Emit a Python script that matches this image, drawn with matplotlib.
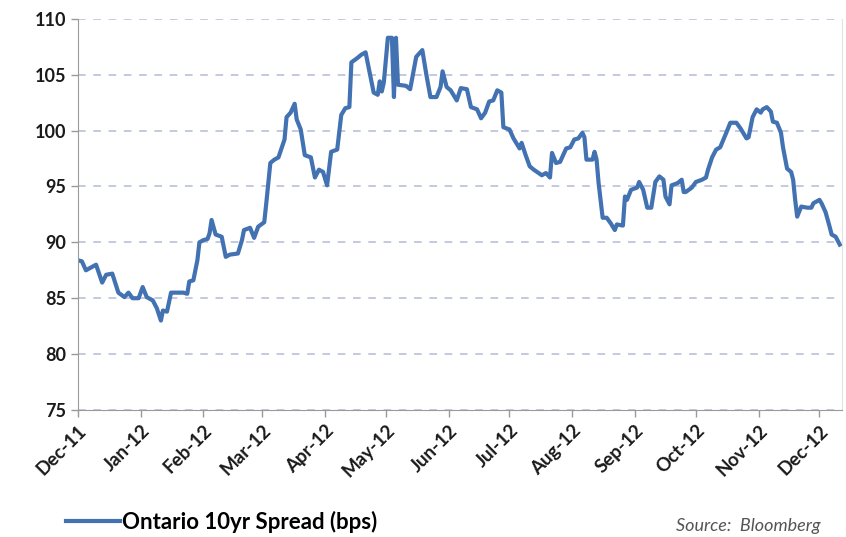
"""Ontario 10yr spread, Dec-11 to Dec-12."""
import numpy as np
import pandas as pd
import matplotlib
matplotlib.use('Agg')
import matplotlib.pyplot as plt
import matplotlib.dates as mdates

plt.rcParams['font.family'] = ['Lato', 'DejaVu Sans']

# values
dates = [
    '2011-12-01', '2011-12-03', '2011-12-05', '2011-12-08', '2011-12-10', '2011-12-13',
    '2011-12-15', '2011-12-18', '2011-12-21', '2011-12-24', '2011-12-26', '2011-12-28',
    '2011-12-31', '2012-01-02', '2012-01-04', '2012-01-07', '2012-01-09', '2012-01-11',
    '2012-01-12', '2012-01-14', '2012-01-16', '2012-01-19', '2012-01-22', '2012-01-24',
    '2012-01-25', '2012-01-27', '2012-01-29', '2012-01-30', '2012-02-01', '2012-02-03',
    '2012-02-04', '2012-02-05', '2012-02-07', '2012-02-10', '2012-02-12', '2012-02-14',
    '2012-02-18', '2012-02-20', '2012-02-21', '2012-02-24', '2012-02-26', '2012-02-28',
    '2012-03-02', '2012-03-03', '2012-03-05', '2012-03-07', '2012-03-09', '2012-03-12',
    '2012-03-13', '2012-03-15', '2012-03-17', '2012-03-18', '2012-03-20', '2012-03-22',
    '2012-03-25', '2012-03-27', '2012-03-29', '2012-03-31', '2012-04-02', '2012-04-04',
    '2012-04-07', '2012-04-09', '2012-04-11', '2012-04-13', '2012-04-14', '2012-04-17',
    '2012-04-19', '2012-04-21', '2012-04-23', '2012-04-25', '2012-04-27', '2012-04-28',
    '2012-04-29', '2012-04-30', '2012-05-02', '2012-05-04', '2012-05-05', '2012-05-06',
    '2012-05-07', '2012-05-11', '2012-05-13', '2012-05-16', '2012-05-19', '2012-05-21',
    '2012-05-23', '2012-05-26', '2012-05-28', '2012-05-29', '2012-05-31', '2012-06-02',
    '2012-06-05', '2012-06-07', '2012-06-10', '2012-06-12', '2012-06-15', '2012-06-17',
    '2012-06-19', '2012-06-21', '2012-06-23', '2012-06-25', '2012-06-27', '2012-06-28',
    '2012-07-01', '2012-07-03', '2012-07-06', '2012-07-07', '2012-07-09', '2012-07-11',
    '2012-07-13', '2012-07-17', '2012-07-19', '2012-07-21', '2012-07-22', '2012-07-24',
    '2012-07-26', '2012-07-29', '2012-07-31', '2012-08-02', '2012-08-04', '2012-08-06',
    '2012-08-07', '2012-08-08', '2012-08-11', '2012-08-12', '2012-08-13', '2012-08-14',
    '2012-08-16', '2012-08-18', '2012-08-20', '2012-08-22', '2012-08-23', '2012-08-26',
    '2012-08-27', '2012-08-28', '2012-08-30', '2012-09-02', '2012-09-03', '2012-09-05',
    '2012-09-07', '2012-09-09', '2012-09-11', '2012-09-13', '2012-09-15', '2012-09-16',
    '2012-09-18', '2012-09-19', '2012-09-22', '2012-09-24', '2012-09-25', '2012-09-26',
    '2012-09-29', '2012-10-01', '2012-10-04', '2012-10-06', '2012-10-07', '2012-10-09',
    '2012-10-11', '2012-10-13', '2012-10-16', '2012-10-18', '2012-10-21', '2012-10-23',
    '2012-10-26', '2012-10-27', '2012-10-29', '2012-10-31', '2012-11-02', '2012-11-03',
    '2012-11-05', '2012-11-07', '2012-11-08', '2012-11-10', '2012-11-12', '2012-11-13',
    '2012-11-15', '2012-11-17', '2012-11-18', '2012-11-19', '2012-11-20', '2012-11-22',
    '2012-11-25', '2012-11-27', '2012-11-28', '2012-12-01', '2012-12-02', '2012-12-04',
    '2012-12-06', '2012-12-07', '2012-12-09', '2012-12-11',
]
spread = [
    88.4, 88.3, 87.5, 87.8, 88.0, 86.4,
    87.1, 87.2, 85.5, 85.1, 85.5, 85.0,
    85.0, 86.0, 85.1, 84.8, 84.1, 83.0,
    83.9, 83.8, 85.5, 85.5, 85.5, 85.4,
    86.5, 86.6, 88.4, 90.0, 90.2, 90.3,
    90.8, 92.0, 90.7, 90.5, 88.7, 88.9,
    89.0, 90.2, 91.1, 91.3, 90.4, 91.4,
    91.8, 93.5, 97.1, 97.4, 97.6, 99.2,
    101.2, 101.6, 102.4, 101.0, 100.1, 97.8,
    97.6, 95.8, 96.5, 96.3, 95.1, 98.1,
    98.3, 101.4, 102.0, 102.1, 106.1, 106.5,
    106.8, 107.0, 105.2, 103.4, 103.2, 104.4,
    103.5, 104.3, 108.3, 108.3, 103.0, 108.3,
    104.1, 104.0, 103.7, 106.6, 107.2, 105.0,
    103.0, 103.0, 103.9, 105.3, 103.9, 103.6,
    102.7, 103.8, 103.7, 102.1, 101.9, 101.1,
    101.6, 102.6, 102.7, 103.6, 103.4, 100.3,
    100.1, 99.3, 98.4, 98.9, 97.8, 96.8,
    96.5, 96.0, 96.2, 95.8, 98.0, 97.1,
    97.2, 98.4, 98.5, 99.2, 99.3, 99.8,
    99.4, 97.4, 97.4, 98.1, 97.4, 95.3,
    92.2, 92.2, 91.7, 91.1, 91.6, 91.5,
    94.1, 93.8, 94.7, 94.9, 95.4, 94.7,
    93.1, 93.1, 95.4, 95.9, 95.6, 94.1,
    93.4, 95.1, 95.3, 95.6, 94.5, 94.5,
    94.9, 95.4, 95.6, 95.8, 96.5, 97.6,
    98.3, 98.5, 99.8, 100.7, 100.7, 100.2,
    99.3, 99.4, 101.2, 101.9, 101.6, 101.9,
    102.1, 101.7, 100.8, 100.7, 99.8, 98.5,
    96.6, 96.3, 95.6, 93.8, 92.3, 93.2,
    93.1, 93.1, 93.5, 93.8, 93.5, 92.7,
    91.4, 90.7, 90.5, 89.8,
]
yticks = [75, 80, 85, 90, 95, 100, 105, 110]
series_label = 'Ontario 10yr Spread (bps)'
source = 'Source:  Bloomberg'

x = pd.to_datetime(dates)

fig = plt.figure(figsize=(8.46, 5.37), dpi=100)
ax = fig.add_axes([0.092, 0.2365, 0.903, 0.7285])

line, = ax.plot(x, spread, color='#4272b2', lw=3.0, solid_joinstyle='round')

ax.set_ylim(75, 110)
ax.set_yticks(yticks)
ax.set_xlim(pd.Timestamp('2011-12-01'), pd.Timestamp('2012-12-12'))
ax.xaxis.set_major_locator(mdates.MonthLocator())
ax.xaxis.set_major_formatter(mdates.DateFormatter('%b-%y'))

ax.yaxis.grid(True, ls=(0, (5, 5)), color='#b4bcd6', lw=1.1)
ax.set_axisbelow(True)
ax.spines['top'].set_visible(False)
ax.spines['right'].set_color('#e2e2e2')
ax.spines['left'].set_color('#9a9a9a')
ax.spines['bottom'].set_color('#9a9a9a')
ax.tick_params(axis='both', colors='#9a9a9a', length=5, width=1,
               labelcolor='#1a1a1a', labelsize=13)
ax.tick_params(axis='x', labelsize=13.5)
for lbl in ax.get_yticklabels():
    lbl.set_fontweight('bold')
for lbl in ax.get_xticklabels():
    lbl.set_fontweight('bold')
    lbl.set_rotation(45)
    lbl.set_ha('right')
    lbl.set_rotation_mode('anchor')

fig.legend([line], [series_label], loc='center left',
           bbox_to_anchor=(0.068, 1 - 522 / 537), frameon=False,
           handlelength=2.4, handletextpad=0.1, borderaxespad=0,
           prop={'weight': 'bold', 'size': 16})
fig.text(676 / 846, 1 - 526 / 537, source, fontsize=13, style='italic',
         color='#555555', va='center', ha='left')

plt.savefig('out.png', dpi=100)
plt.close()
